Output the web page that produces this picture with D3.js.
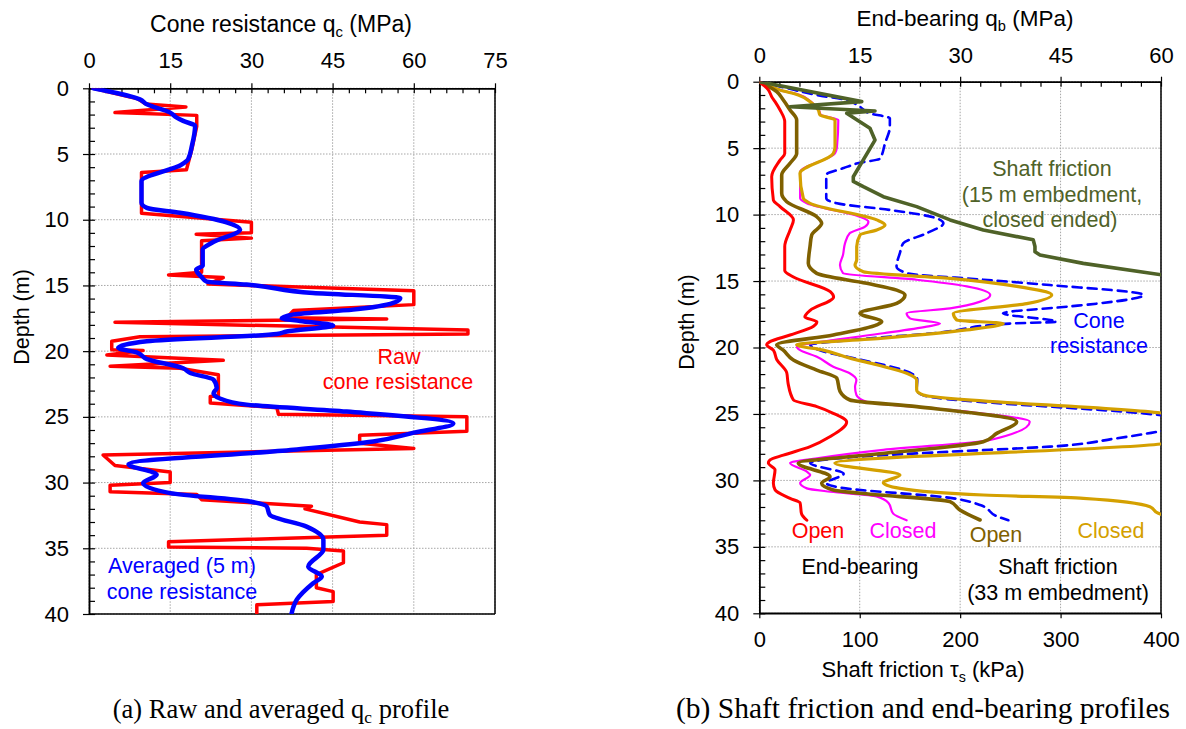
<!DOCTYPE html>
<html><head><meta charset="utf-8">
<script src="https://cdn.jsdelivr.net/npm/d3@7"></script>
<style>
body{margin:0;background:#fff;}
svg{display:block;font-family:"Liberation Sans",Arial,sans-serif;}
</style></head><body>
<svg id="c" width="1186" height="729"></svg>
<script>
// ---------- DATA: [depth (m), value] ----------
// (a) raw cone resistance qc (MPa)
const rawQc = [[0,0.8],[0.8,9],[1.2,10.5],[1.42,17.9],[1.85,4.8],[2.06,19.9],[2.9,19.9],[4.65,19.0],[6.2,18.0],[6.4,9.7],[9.5,9.7],[10.2,30],[11.0,30],[11.1,19.8],[11.4,30],[11.6,20.8],[14.0,20.8],[14.2,14.7],[14.4,24.8],[14.9,22],[15.4,60],[16.46,60],[16.9,37.8],[17.45,36.5],[17.55,55],[17.8,4.8],[18.4,70],[18.7,70],[18.9,9.4],[19.25,4.2],[19.9,4.2],[19.95,10],[20.3,3.3],[20.7,24.8],[21.15,3.9],[21.3,16.8],[21.8,23.9],[23.4,23.9],[23.45,22.4],[23.95,22.4],[24.3,34.7],[24.8,35],[25.0,69.8],[26.1,69.8],[26.4,50],[27.0,50],[27.4,60],[27.9,2.6],[28.7,4.8],[29.2,15],[30.0,15],[30.2,3.9],[30.7,3.9],[30.9,19.9],[31.3,20.8],[31.8,41.1],[32.0,39.9],[33.0,50],[33.2,55],[34.0,55],[34.5,14.7],[34.9,14.7],[35.0,40.2],[35.2,47],[36.1,47],[37.0,42],[38.0,42],[38.3,45.1],[39.05,45.1],[39.3,31],[40,31]];
// (a) averaged (5 m) cone resistance (MPa)
const avgQc = [[0,0.8],[0.84,9.4],[1.22,10.7],[1.85,15],[2.23,16.2],[2.48,17.4],[2.87,19.6],[4.39,19],[5.4,18.3],[5.8,17.1],[7.06,9.7],[8.7,9.7],[9.1,10.7],[9.47,16.8],[10.2,25.4],[10.74,27.9],[11.75,22.7],[12.27,21],[13.5,21],[13.8,19.8],[14.35,20.8],[14.7,21.7],[14.93,29.1],[15.57,41.4],[15.95,57.5],[16.33,56.2],[16.84,48.8],[17.2,37.8],[17.5,35.6],[17.7,39],[18.05,45.1],[18.5,36.5],[18.7,34.7],[19.25,10.7],[19.75,5.4],[20.1,8.8],[20.6,10.7],[21.3,17.4],[21.66,18.7],[22.17,23],[22.8,23.6],[23.2,23],[23.6,24.2],[24.07,29.1],[24.6,47.6],[25.5,67.3],[26.2,60],[26.87,52.5],[27.5,37.8],[28.6,7.3],[29.4,12.5],[30.04,10],[30.8,15],[31.44,29.7],[31.8,32.8],[32.46,33.4],[33.35,40.2],[34.36,43.3],[35.1,43.3],[36.4,40.5],[37.15,43],[37.66,41.4],[38.9,38.4],[40,37.4]];
// (b) cone resistance (MPa)
const coneB = [[0,0],[0.42,3.6],[1.0,8.6],[1.38,13],[1.88,15],[2.38,16.5],[2.75,19.5],[3.4,19.5],[4.6,18.8],[5.8,18],[6.1,15],[6.5,12.6],[7.0,10],[8.77,10],[9.15,11.6],[9.65,19.5],[10.28,26.5],[10.66,27.5],[11.4,25],[12.16,21.5],[12.9,21],[13.9,20.5],[14.4,22],[14.9,33.5],[15.3,43.4],[16.05,57.4],[16.7,50.4],[16.93,45.9],[17.43,36.4],[18.06,44.4],[18.2,37.4],[18.9,26.5],[19.44,13.5],[19.8,7.6],[20.3,9.6],[20.9,15],[21.9,22.5],[22.4,23.6],[23.2,23.5],[23.6,24.5],[25.1,60],[25.7,67],[26.3,60],[26.83,53.4],[27.46,43.4],[27.84,28.5],[28.26,13.5],[28.7,7.6],[29.5,12.6],[30.2,10],[30.5,11.6],[31.35,29],[31.85,33],[32.7,35.5],[33.0,37.2]];
// (b) end-bearing, open ended (MPa)
const ebOpen = [[0,0],[0.62,1.35],[1.13,1.85],[1.5,2.35],[2.13,3.1],[3.0,3.8],[5.4,3.8],[5.9,3.1],[7.15,1.85],[8.9,2.1],[9.4,3.1],[10.4,5.1],[11.16,4.6],[12.4,3.8],[14.2,3.8],[14.7,5.1],[15.8,10.6],[16.2,11.1],[17.2,7.6],[17.7,6.8],[18.06,8.6],[18.4,8.1],[19.06,4.6],[19.56,1.6],[19.8,1.1],[20.2,2.1],[20.9,2.6],[21.9,4.1],[22.7,4.3],[23.95,5.1],[24.45,8.6],[24.95,11.05],[25.6,13.05],[26.7,10.6],[27.46,7.6],[28.1,3.6],[28.46,1.6],[28.7,1.35],[29.2,2.35],[30.2,2.1],[30.7,2.35],[31.35,4.6],[31.7,6.1],[32.5,6.3],[33.0,7.1]];
// (b) end-bearing, closed ended (MPa)
const ebClosed = [[0,0],[0.63,3.1],[1.0,6.1],[1.5,7.7],[2.13,8.9],[2.5,9.2],[2.88,11.8],[4.9,11.6],[5.4,11.3],[6.8,6.1],[8.77,6.1],[9.15,7.1],[10.16,15],[10.53,16.3],[10.9,15.8],[11.4,13.5],[12.16,12.8],[13.04,12.5],[13.8,12.05],[14.4,12.5],[14.9,23.5],[15.4,31],[16.05,34.5],[16.55,33],[17.05,28.5],[17.43,22],[17.8,22.5],[18.2,27],[18.43,25],[18.93,18.5],[19.44,11.05],[19.94,5.6],[20.2,6.1],[20.7,8.6],[21.44,11.05],[21.94,13.5],[22.45,14.5],[22.95,14.3],[23.57,14.5],[24.08,16],[24.7,28.5],[25.58,40.4],[26.96,34.5],[27.7,18.5],[28.34,8.6],[28.7,4.6],[29.34,7.1],[29.6,7.6],[30.2,6.1],[30.6,7.1],[30.85,10.6],[31.2,17.5],[31.7,19.3],[32.5,20],[33.0,22]];
// (b) shaft friction, 33 m embedment, open ended (kPa)
const sfOpen = [[0,0],[0.75,17.3],[1.38,23.9],[2.13,30.6],[2.88,37.2],[5.4,37.2],[6.14,30.6],[7.02,22.3],[8.4,22.3],[9.03,27.3],[10.16,57.2],[10.66,62.1],[11.53,52.2],[12.4,50.5],[13.67,48.8],[14.42,57.2],[15.17,107],[15.68,136.8],[16.05,145.1],[16.68,136.8],[17.43,100.3],[18.06,121.9],[18.3,116.9],[19.06,73.7],[19.8,17.3],[20.2,23.9],[20.94,33.9],[21.7,57.2],[22.3,77.1],[23.3,80.4],[23.95,90.3],[24.45,156.7],[25.58,256.3],[26.46,236.4],[27.09,223],[28.09,107],[28.7,38.8],[29.72,70.4],[30.22,62.1],[30.72,73.7],[30.97,100.3],[31.6,189.9],[32.23,199.8],[32.98,219.8]];
// (b) shaft friction, 33 m embedment, closed ended (kPa)
const sfClosed = [[0,0],[0.63,20.6],[1.0,38.8],[1.5,50.5],[2.13,58.8],[2.5,60.4],[2.88,75.4],[4.9,75.4],[5.4,73.7],[6.9,40.5],[8.77,43.8],[9.15,50.5],[10.4,116.9],[10.78,125.2],[11.16,116.9],[11.53,100.3],[12.4,97],[13.4,97],[13.8,95.3],[14.3,103.6],[14.8,189.9],[15.4,256.3],[16.05,291.2],[16.7,266.3],[17.43,193.2],[17.93,196.6],[18.2,243],[18.68,206.5],[19.3,123.5],[19.8,37.2],[20.2,63.7],[20.8,90.3],[21.3,116.9],[21.94,146.8],[22.45,156.7],[23.2,156.7],[23.57,163.3],[24.95,402],[25.8,440],[26.8,430],[27.26,400],[28.7,75.2],[29.6,140.1],[30.17,123.5],[30.6,140.1],[31.1,223],[31.35,322.6],[31.98,389],[32.48,397.3],[32.6,402]];
// (b) shaft friction, 15 m embedment, closed ended (kPa)
const sf15 = [[0,0],[1.5,102],[1.88,30.6],[2.2,115.2],[2.38,87],[3.5,110.2],[4.39,115.2],[7.15,93.6],[7.5,93.6],[7.9,103.6],[8.65,123.5],[9.4,156.7],[10.4,189.9],[11.16,223],[11.9,272.8],[12.4,274.5],[12.8,274.5],[13.04,279.5],[13.67,322.6],[14.55,402]];

// ticks
const qcTicks = [0,15,30,45,60,75];
const qbTicks = [0,15,30,45,60];
const tauTicks = [0,100,200,300,400];
const depthTicks = [0,5,10,15,20,25,30,35,40];

// ---------- DRAW ----------
const svg = d3.select("#c");
const FS = 21.5;
const TFS = 22;
const gridCol = "#a6a6a6";

const xL = d3.scaleLinear([0,75],[89,495]);
const yL = d3.scaleLinear([0,40],[88.3,614]);
const xR = d3.scaleLinear([0,60],[759.3,1161]);
const xRk = d3.scaleLinear([0,400],[759.3,1161]);
const yR = d3.scaleLinear([0,40],[81.7,613.3]);

const defs = svg.append("defs");
function clip(id,x,y){
  defs.append("clipPath").attr("id",id).append("rect")
    .attr("x",x.range()[0]).attr("y",y.range()[0])
    .attr("width",x.range()[1]-x.range()[0]).attr("height",y.range()[1]-y.range()[0]);
}
clip("clipL",xL,yL); clip("clipR",xR,yR);

function grid(x,y,xt,yt){
  const g = svg.append("g");
  g.selectAll(".gv").data(xt).join("line")
    .attr("x1",d=>x(d)).attr("x2",d=>x(d)).attr("y1",y.range()[0]).attr("y2",y.range()[1])
    .attr("stroke",gridCol).attr("stroke-width",1).attr("stroke-dasharray","1.5,1.5");
  g.selectAll(".gh").data(yt).join("line")
    .attr("y1",d=>y(d)).attr("y2",d=>y(d)).attr("x1",x.range()[0]).attr("x2",x.range()[1])
    .attr("stroke",gridCol).attr("stroke-width",1).attr("stroke-dasharray","1.5,1.5");
}
grid(xL,yL,qcTicks,depthTicks);
grid(xR,yR,qbTicks,depthTicks);

function styleAxis(g){
  g.selectAll("path.domain").attr("stroke","#000").attr("stroke-width",1.5);
  g.selectAll(".tick line").attr("stroke","#000").attr("stroke-width",1.2);
  g.selectAll("text").attr("font-size",TFS).attr("fill","#000").attr("font-family","Liberation Sans, Arial, sans-serif");
}
function minorRange(a,b,step){ const r=[]; for(let v=a; v<=b+1e-9; v+=step) r.push(+v.toFixed(3)); return r; }

function axes(x,y,xMajor,xStep,labelPadTop){
  const y0 = y.range()[0], y1=y.range()[1], x0=x.range()[0], x1=x.range()[1];
  const gt = svg.append("g").attr("transform",`translate(0,${y0})`);
  gt.call(d3.axisTop(x).tickValues(xMajor).tickSize(5).tickSizeOuter(0).tickPadding(labelPadTop).tickFormat(d3.format("d")));
  styleAxis(gt);
  const gt2 = svg.append("g").attr("transform",`translate(0,${y0})`);
  gt2.call(d3.axisTop(x).tickValues(minorRange(0,x.domain()[1],xStep)).tickSize(-5).tickSizeOuter(0).tickFormat(""));
  styleAxis(gt2);
  const gl = svg.append("g").attr("transform",`translate(${x0},0)`);
  gl.call(d3.axisLeft(y).tickValues(depthTicks).tickSize(6).tickSizeOuter(0).tickPadding(14).tickFormat(d3.format("d")));
  styleAxis(gl);
  const gl2 = svg.append("g").attr("transform",`translate(${x0},0)`);
  gl2.call(d3.axisLeft(y).tickValues(minorRange(0,40,1)).tickSize(-6).tickSizeOuter(0).tickFormat(""));
  styleAxis(gl2);
  svg.append("line").attr("x1",x1).attr("x2",x1).attr("y1",y0).attr("y2",y1).attr("stroke","#000").attr("stroke-width",1.5);
  svg.append("line").attr("x1",x0).attr("x2",x1).attr("y1",y1).attr("y2",y1).attr("stroke","#000").attr("stroke-width",1.5);
}
axes(xL,yL,qcTicks,3,15);
axes(xR,yR,qbTicks,3,14);

const gb = svg.append("g").attr("transform",`translate(0,${yR.range()[1]})`);
gb.call(d3.axisBottom(xRk).tickValues(tauTicks).tickSize(5).tickSizeOuter(0).tickPadding(13).tickFormat(d3.format("d")));
styleAxis(gb);

function drawLine(data,x,y,clipId,color,w,dash,curve){
  svg.append("path").datum(data)
    .attr("clip-path",`url(#${clipId})`)
    .attr("fill","none").attr("stroke",color).attr("stroke-width",w)
    .attr("stroke-linejoin","round").attr("stroke-linecap","round")
    .attr("stroke-dasharray",dash||null)
    .attr("d",d3.line().x(d=>x(d[1])).y(d=>y(d[0])).curve(curve||d3.curveLinear));
}
drawLine(rawQc,xL,yL,"clipL","#ff0000",3.5);
drawLine(avgQc,xL,yL,"clipL","#0000ff",4.5,null,d3.curveMonotoneY);

drawLine(coneB,xR,yR,"clipR","#0000ff",2.6,"9,6",d3.curveMonotoneY);
drawLine(ebClosed,xR,yR,"clipR","#ff00ff",2.2,null,d3.curveMonotoneY);
drawLine(sfClosed,xRk,yR,"clipR","#d4a000",3.2,null,d3.curveMonotoneY);
drawLine(sfOpen,xRk,yR,"clipR","#7f6000",3.6,null,d3.curveMonotoneY);
drawLine(ebOpen,xR,yR,"clipR","#ff0000",3,null,d3.curveMonotoneY);
drawLine(sf15,xRk,yR,"clipR","#4f6228",3.6,null,d3.curveLinear);

function txt(x,y,str,color,opts={}){
  const size = opts.size||FS;
  const t = svg.append("text").attr("x",x).attr("y",y).attr("fill",color||"#000")
    .attr("font-size",size).attr("text-anchor",opts.anchor||"middle")
    .attr("font-family",opts.family||"Liberation Sans, Arial, sans-serif");
  if(opts.rotate) t.attr("transform",`rotate(${opts.rotate},${x},${y})`);
  if(Array.isArray(str)){
    str.forEach(p=>{
      const s=t.append("tspan").text(p.t);
      if(p.sub){ s.attr("font-size",size*0.65).attr("dy",5); }
      if(p.after){ s.attr("dy",-5); }
    });
  } else t.text(str);
  return t;
}
// axis titles
txt(281,32,[{t:"Cone resistance q"},{t:"c",sub:true},{t:" (MPa)",after:true}],"#000",{size:23});
txt(965,26,[{t:"End-bearing q"},{t:"b",sub:true},{t:" (MPa)",after:true}],"#000",{size:22.5});
txt(923,677,[{t:"Shaft friction "},{t:"τ"},{t:"s",sub:true},{t:" (kPa)",after:true}],"#000",{size:22});
txt(29,317,"Depth (m)","#000",{rotate:-90});
txt(694,322,"Depth (m)","#000",{rotate:-90});

// annotations (a)
txt(399,364,"Raw","#ff0000");
txt(398,389,"cone resistance","#ff0000");
txt(182,573,"Averaged (5 m)","#0000ff");
txt(182,599,"cone resistance","#0000ff");
// annotations (b)
txt(1052,176,"Shaft friction","#4f6228");
txt(1052,202,"(15 m embedment,","#4f6228");
txt(1050,227,"closed ended)","#4f6228");
txt(1099,328,"Cone","#0000ff");
txt(1099,353,"resistance","#0000ff");
txt(818,538,"Open","#ff0000");
txt(903,538,"Closed","#ff00ff");
txt(996,542,"Open","#7f6000");
txt(1111,538,"Closed","#d4a000");
txt(860,574,"End-bearing","#000");
txt(1058,574,"Shaft friction","#000");
txt(1058,600,"(33 m embedment)","#000");

// captions
const serif = "Liberation Serif, Times New Roman, serif";
txt(281,718,[{t:"(a) Raw and averaged q"},{t:"c",sub:true},{t:" profile",after:true}],"#000",{family:serif,size:26.5});
txt(923,718,"(b) Shaft friction and end-bearing profiles","#000",{family:serif,size:29.5});
</script>
</body></html>
